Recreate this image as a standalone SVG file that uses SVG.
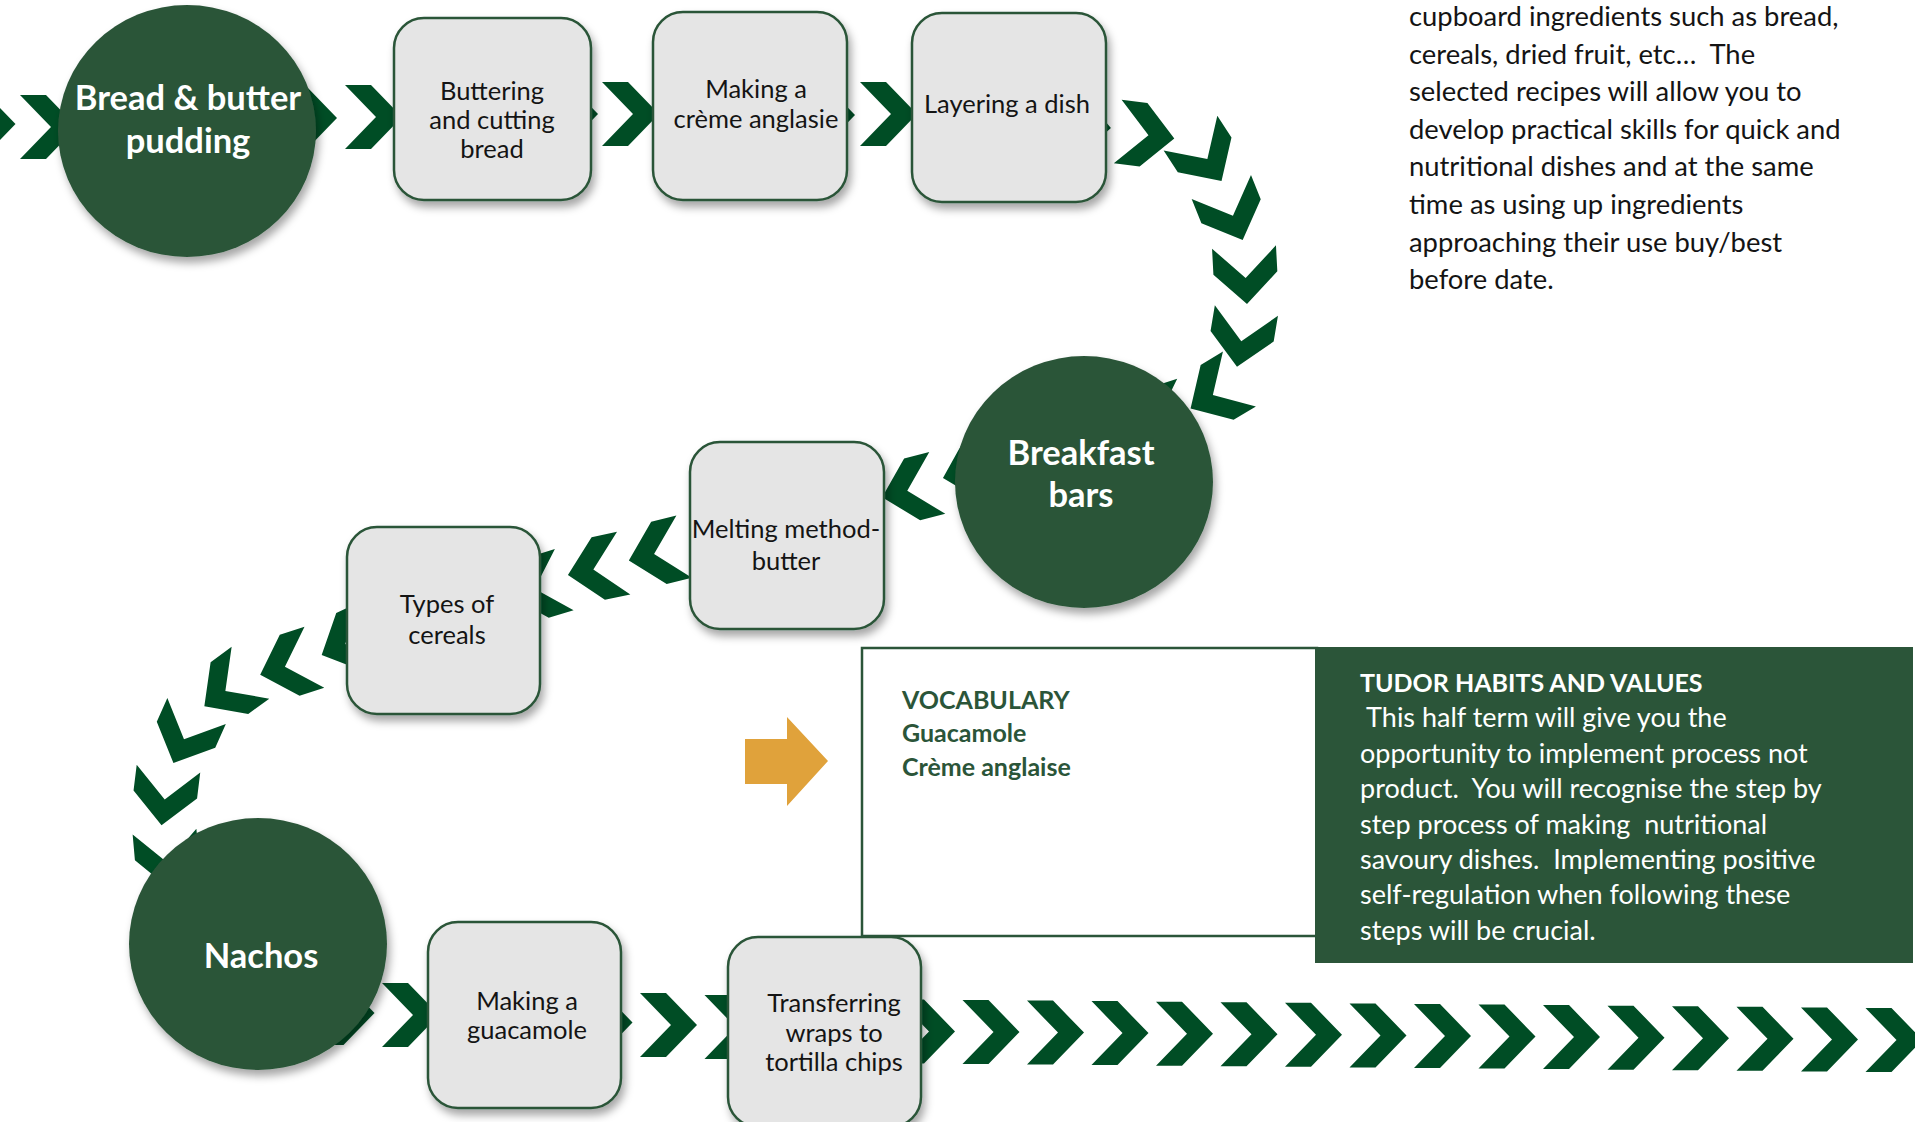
<svg xmlns="http://www.w3.org/2000/svg" xmlns:xlink="http://www.w3.org/1999/xlink" width="1915" height="1122" viewBox="0 0 1915 1122">
<style>
.chev{fill:#004d25}
.circ{fill:#2b5539;filter:url(#sh)}
.box{fill:#e5e5e5;stroke:#2b5539;stroke-width:2.5;filter:url(#sh)}
.ct{font-family:Lato,"Open Sans",sans-serif;font-weight:bold;font-size:34.5px;fill:#ffffff;text-anchor:middle}
.bt{font-family:Lato,"Open Sans",sans-serif;font-weight:normal;font-size:25.5px;fill:#141414;text-anchor:middle}
.para{font-family:Lato,"Open Sans",sans-serif;font-size:27.4px;fill:#141414;white-space:pre}
.voc{font-family:Lato,"Open Sans",sans-serif;font-weight:bold;font-size:25px;fill:#2b5539}
.tud{font-family:Lato,"Open Sans",sans-serif;font-size:27px;fill:#ffffff;white-space:pre}
.tudh{font-family:Lato,"Open Sans",sans-serif;font-weight:bold;font-size:25px;fill:#ffffff}
</style>
<defs>
<filter id="sh" x="-20%" y="-20%" width="140%" height="150%">
<feDropShadow dx="3" dy="6" stdDeviation="4" flood-color="#000" flood-opacity="0.35"/>
</filter>
<polygon id="chev" points="-28.5,-32 -2.5,-32 28.5,0 -2.5,32 -28.5,32 2.5,0"/>
</defs>
<rect width="1915" height="1122" fill="#ffffff"/>

<g id="connectors" class="chev">
<use href="#chev" transform="translate(-13,124)"/>
<use href="#chev" transform="translate(48.5,127)"/>
<use href="#chev" transform="translate(308.5,118)"/>
<use href="#chev" transform="translate(373.5,117)"/>
<use href="#chev" transform="translate(569.5,114)"/>
<use href="#chev" transform="translate(630.5,114)"/>
<use href="#chev" transform="translate(826.5,115)"/>
<use href="#chev" transform="translate(888.5,114)"/>
<use href="#chev" transform="translate(1082.5,126) rotate(4)"/>
<use href="#chev" transform="translate(1146,135) rotate(7)"/>
<use href="#chev" transform="translate(1206,157) rotate(57)"/>
<use href="#chev" transform="translate(1232,213.5) rotate(68)"/>
<use href="#chev" transform="translate(1245.5,275.5) rotate(87)"/>
<use href="#chev" transform="translate(1241.7,338.7) rotate(99.5)"/>
<use href="#chev" transform="translate(1215,393.7) rotate(149)"/>
<use href="#chev" transform="translate(1160,418) rotate(162)"/>
<use href="#chev" transform="translate(970.5,470.6) rotate(165)"/>
<use href="#chev" transform="translate(909.7,490) rotate(165.5)"/>
<use href="#chev" transform="translate(656.5,553.5) rotate(166)"/>
<use href="#chev" transform="translate(595.8,569) rotate(168)"/>
<use href="#chev" transform="translate(537,588) rotate(163)"/>
<use href="#chev" transform="translate(347.5,643) rotate(155)"/>
<use href="#chev" transform="translate(287.3,666) rotate(162)"/>
<use href="#chev" transform="translate(227.4,689.5) rotate(144)"/>
<use href="#chev" transform="translate(185,737) rotate(114)"/>
<use href="#chev" transform="translate(165,797) rotate(97)"/>
<use href="#chev" transform="translate(167,860) rotate(85)"/>
<use href="#chev" transform="translate(346,1013)"/>
<use href="#chev" transform="translate(410.5,1015)"/>
<use href="#chev" transform="translate(604,1022.5)"/>
<use href="#chev" transform="translate(668.5,1025)"/>
<use href="#chev" transform="translate(733,1027)"/>
<use href="#chev" transform="translate(926.5,1031.5)"/>
<use href="#chev" transform="translate(991,1032)"/>
<use href="#chev" transform="translate(1055.5,1032.6)"/>
<use href="#chev" transform="translate(1120,1033.1)"/>
<use href="#chev" transform="translate(1184.5,1033.7)"/>
<use href="#chev" transform="translate(1249,1034.3)"/>
<use href="#chev" transform="translate(1313.5,1034.8)"/>
<use href="#chev" transform="translate(1378,1035.4)"/>
<use href="#chev" transform="translate(1442.5,1036)"/>
<use href="#chev" transform="translate(1507,1036.5)"/>
<use href="#chev" transform="translate(1571.5,1037.1)"/>
<use href="#chev" transform="translate(1636,1037.7)"/>
<use href="#chev" transform="translate(1700.5,1038.2)"/>
<use href="#chev" transform="translate(1765,1038.8)"/>
<use href="#chev" transform="translate(1829.5,1039.4)"/>
<use href="#chev" transform="translate(1894,1040)"/>
</g>

<g id="intro-text">
<text class="para" x="1409" y="26">cupboard ingredients such as bread,</text>
<text class="para" x="1409" y="63.6">cereals, dried fruit, etc…  The</text>
<text class="para" x="1409" y="101">selected recipes will allow you to</text>
<text class="para" x="1409" y="138.8">develop practical skills for quick and</text>
<text class="para" x="1409" y="176.4">nutritional dishes and at the same</text>
<text class="para" x="1409" y="214">time as using up ingredients</text>
<text class="para" x="1409" y="251.6">approaching their use buy/best</text>
<text class="para" x="1409" y="289.2">before date.</text>
</g>

<g id="vocabulary">
<rect x="862" y="648" width="455" height="288" fill="#ffffff" stroke="#2b5539" stroke-width="2.5"/>
<text class="voc" x="902" y="709">VOCABULARY</text>
<text class="voc" x="902" y="742">Guacamole</text>
<text class="voc" x="902" y="776">Crème anglaise</text>
</g>

<g id="tudor">
<rect x="1315" y="647" width="598" height="316" fill="#2b5539"/>
<text class="tudh" x="1360" y="692">TUDOR HABITS AND VALUES</text>
<text class="tud" x="1360" y="727"> This half term will give you the</text>
<text class="tud" x="1360" y="763">opportunity to implement process not</text>
<text class="tud" x="1360" y="798">product.  You will recognise the step by</text>
<text class="tud" x="1360" y="834">step process of making  nutritional</text>
<text class="tud" x="1360" y="869">savoury dishes.  Implementing positive</text>
<text class="tud" x="1360" y="904">self-regulation when following these</text>
<text class="tud" x="1360" y="940">steps will be crucial.</text>
</g>

<g id="pointer">
<polygon points="745,739 787,739 787,717 828,761 787,806 787,784 745,784" fill="#e0a23b"/>
</g>

<g id="bread-butter-pudding">
<ellipse class="circ" cx="187" cy="131" rx="129" ry="126"/>
<text class="ct" x="188" y="110">Bread &amp; butter</text>
<text class="ct" x="188" y="153">pudding</text>
</g>
<g id="buttering">
<rect class="box" x="394" y="18" width="197" height="182" rx="30"/>
<text class="bt" x="492" y="100">Buttering</text>
<text class="bt" x="492" y="129">and cutting</text>
<text class="bt" x="492" y="158">bread</text>
</g>
<g id="creme-anglaise">
<rect class="box" x="653" y="12" width="194" height="188" rx="30"/>
<text class="bt" x="756" y="98">Making a</text>
<text class="bt" x="756" y="128">crème anglasie</text>
</g>
<g id="layering">
<rect class="box" x="912" y="13" width="194" height="189" rx="30"/>
<text class="bt" x="1007" y="113">Layering a dish</text>
</g>
<g id="breakfast-bars">
<ellipse class="circ" cx="1084" cy="482" rx="129" ry="126"/>
<text class="ct" x="1081" y="465">Breakfast</text>
<text class="ct" x="1081" y="507">bars</text>
</g>
<g id="melting">
<rect class="box" x="690" y="442" width="194" height="187" rx="30"/>
<text class="bt" x="786" y="538">Melting method-</text>
<text class="bt" x="786" y="570">butter</text>
</g>
<g id="cereals">
<rect class="box" x="347" y="527" width="193" height="187" rx="30"/>
<text class="bt" x="447" y="613">Types of</text>
<text class="bt" x="447" y="644">cereals</text>
</g>
<g id="nachos">
<ellipse class="circ" cx="258" cy="944" rx="129" ry="126"/>
<text class="ct" x="261" y="968">Nachos</text>
</g>
<g id="guacamole">
<rect class="box" x="428" y="922" width="193" height="186" rx="30"/>
<text class="bt" x="527" y="1010">Making a</text>
<text class="bt" x="527" y="1039">guacamole</text>
</g>
<g id="transferring">
<rect class="box" x="728" y="937" width="193" height="190" rx="30"/>
<text class="bt" x="834" y="1012">Transferring</text>
<text class="bt" x="834" y="1042">wraps to</text>
<text class="bt" x="834" y="1071">tortilla chips</text>
</g>
</svg>
